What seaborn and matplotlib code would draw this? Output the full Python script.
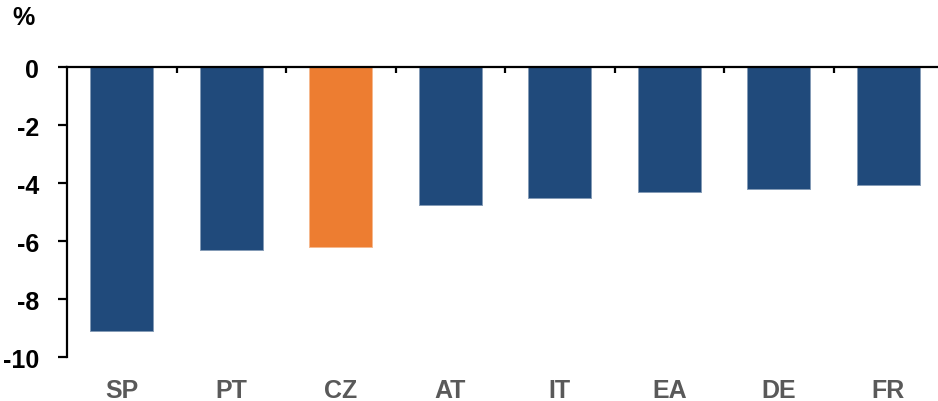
import matplotlib
matplotlib.use("Agg")
import matplotlib.pyplot as plt
from matplotlib.colors import to_rgb
from matplotlib.ticker import FixedLocator
import seaborn as sns
import pandas as pd

# Country codes and values (%)
countries = ["SP", "PT", "CZ", "AT", "IT", "EA", "DE", "FR"]
values = [-9.1, -6.3, -6.2, -4.75, -4.5, -4.3, -4.2, -4.05]
bar_colors = ["#204A7B", "#204A7B", "#ED7D31", "#204A7B",
              "#204A7B", "#204A7B", "#204A7B", "#204A7B"]
y_ticks = [0, -2, -4, -6, -8, -10]
unit_label = "%"

sns.set_theme(style="white")
plt.rcParams["font.family"] = ["Liberation Sans", "DejaVu Sans"]
plt.rcParams["font.weight"] = "bold"

FS = 18

df = pd.DataFrame({"country": countries, "value": values})

fig = plt.figure(figsize=(9.38, 4.02), dpi=100)
ax = fig.add_axes([67 / 938, 1 - 358.3 / 402, 1 - 67 / 938, (358.3 - 68.3) / 402])

sns.barplot(data=df, x="country", y="value", hue="country",
            palette=bar_colors, legend=False, width=0.575,
            linewidth=0, saturation=1, ax=ax)

# Soft, lighter outline around each bar
for patch in ax.patches:
    r, g, b = to_rgb(patch.get_facecolor())
    light = (r + (1 - r) * 0.45, g + (1 - g) * 0.45, b + (1 - b) * 0.45)
    patch.set_edgecolor(light)
    patch.set_linewidth(0.7)

ax.set_ylim(-10, 0)
ax.set_xlim(-0.5, 7.454)
ax.set_yticks(y_ticks)
ax.set_yticklabels([str(t) for t in y_ticks])
ax.set_xlabel("")
ax.set_ylabel("")

# Spines: zero line on top, value axis on the left
for side in ("right", "bottom"):
    ax.spines[side].set_visible(False)
for side in ("top", "left"):
    ax.spines[side].set_visible(True)
    ax.spines[side].set_color("black")
    ax.spines[side].set_linewidth(1.6)

# Value axis ticks
ax.tick_params(axis="y", which="major", left=True, direction="out",
               length=6.5, width=1.6, color="black", pad=13.5,
               labelsize=FS, labelcolor="black")

# Category labels below the plot, no tick marks
ax.tick_params(axis="x", which="major", bottom=False, top=False,
               length=0, pad=15, labelsize=FS, labelcolor="#595959")

# Separator ticks between categories hanging from the zero line
ax.xaxis.set_minor_locator(FixedLocator([i + 0.5 for i in range(len(countries))]))
ax.tick_params(axis="x", which="minor", top=True, bottom=False,
               direction="in", length=4.5, width=1.6, color="black")

for lbl in ax.get_xticklabels() + ax.get_yticklabels():
    lbl.set_fontweight("bold")

ax.grid(False)
fig.text(12 / 938, 1 - 6 / 402, unit_label, ha="left", va="top",
         fontsize=FS, fontweight="bold", color="black")

fig.savefig("out.png", dpi=100)
